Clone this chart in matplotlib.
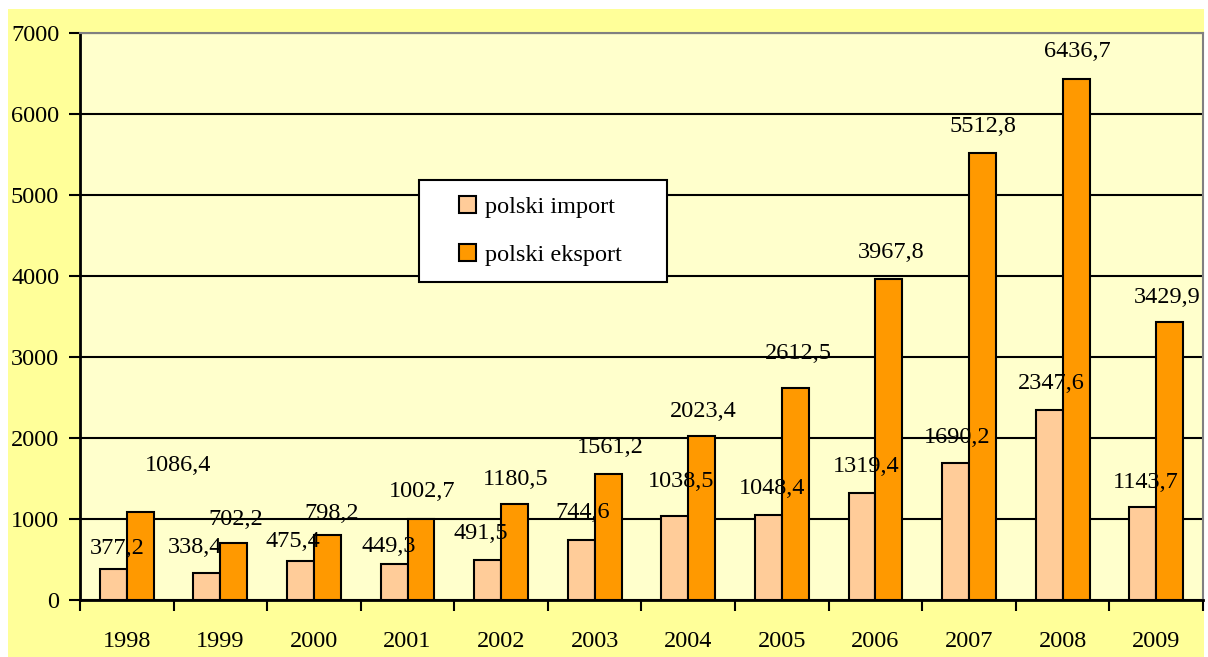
import matplotlib
matplotlib.use("Agg")
import matplotlib.pyplot as plt
from matplotlib.patches import Rectangle
import numpy as np

years = ["1998", "1999", "2000", "2001", "2002", "2003",
         "2004", "2005", "2006", "2007", "2008", "2009"]
polski_import = [377.2, 338.4, 475.4, 449.3, 491.5, 744.6,
                 1038.5, 1048.4, 1319.4, 1690.2, 2347.6, 1143.7]
polski_eksport = [1086.4, 702.2, 798.2, 1002.7, 1180.5, 1561.2,
                  2023.4, 2612.5, 3967.8, 5512.8, 6436.7, 3429.9]

# label offsets (pixels) relative to top-centre of each bar, as in the original
imp_dx = [4, -12, -8, -5, -7, 1, 6, 4, 4, 2, 2, 3]
imp_dy = [21, 25, 20, 17, 27, 27, 34, 27, 27, 26, 26, 25]
exp_dx = [38, 2, 4, 1, 1, 2, 1, 3, 2, 0, 1, -2]
exp_dy = [47, 24, 22, 27, 25, 26, 25, 35, 26, 27, 27, 25]

plt.rcParams["font.family"] = ["Liberation Serif", "DejaVu Serif"]
FS = 17.5

fig = plt.figure(figsize=(12.08, 6.57), dpi=100)
fig.patch.set_facecolor("white")
fig.patches.append(Rectangle((8 / 1208, 0), 1196 / 1208, 648 / 657,
                             transform=fig.transFigure, facecolor="#FFFF99",
                             edgecolor="none", zorder=-10))

ax = fig.add_axes([80 / 1208, 57 / 657, 1123 / 1208, 567 / 657])
ax.set_facecolor("#FFFFCC")

x = np.arange(len(years))
w = 0.288
ax.bar(x - w / 2, polski_import, w, color="#FFCC99", edgecolor="black",
       linewidth=1.5, label="polski import", zorder=3)
ax.bar(x + w / 2, polski_eksport, w, color="#FF9900", edgecolor="black",
       linewidth=1.5, label="polski eksport", zorder=3)

for i in range(len(years)):
    ax.annotate(f"{polski_import[i]:.1f}".replace(".", ","),
                (x[i] - w / 2, polski_import[i]), xytext=(imp_dx[i], imp_dy[i]),
                textcoords="offset pixels", ha="center", va="center",
                fontsize=FS, zorder=5)
    ax.annotate(f"{polski_eksport[i]:.1f}".replace(".", ","),
                (x[i] + w / 2, polski_eksport[i]), xytext=(exp_dx[i], exp_dy[i]),
                textcoords="offset pixels", ha="center", va="center",
                fontsize=FS, zorder=5)

ax.set_xlim(-0.5, len(years) - 0.5)
ax.set_ylim(0, 7000)
ax.set_yticks(range(0, 7001, 1000))
ax.yaxis.grid(True, color="black", linewidth=1.5, zorder=0)
ax.set_axisbelow(True)

ax.set_xticks(x)
ax.set_xticklabels(years)
ax.set_xticks(np.arange(-0.5, len(years), 1.0), minor=True)
ax.tick_params(axis="x", which="major", length=0, pad=22, labelsize=FS)
ax.tick_params(axis="x", which="minor", length=8, width=1.5, direction="out")
ax.tick_params(axis="y", length=8, width=1.5, direction="out", pad=7,
               labelsize=FS)

for s in ["left", "bottom"]:
    ax.spines[s].set_color("black")
    ax.spines[s].set_linewidth(2)
for s in ["top", "right"]:
    ax.spines[s].set_color("#808080")
    ax.spines[s].set_linewidth(1.5)

# legend box
ax.add_patch(Rectangle((0.302, 0.561), 0.221, 0.18, transform=ax.transAxes,
                       facecolor="white", edgecolor="black", linewidth=1.5,
                       zorder=6))
leg = ax.legend(loc="center", bbox_to_anchor=(0.41, 0.651), frameon=False,
                fontsize=FS, handlelength=0.7, handleheight=0.7,
                labelspacing=1.05, handletextpad=0.4)
leg.set_zorder(7)

plt.savefig("out.png", dpi=100)
